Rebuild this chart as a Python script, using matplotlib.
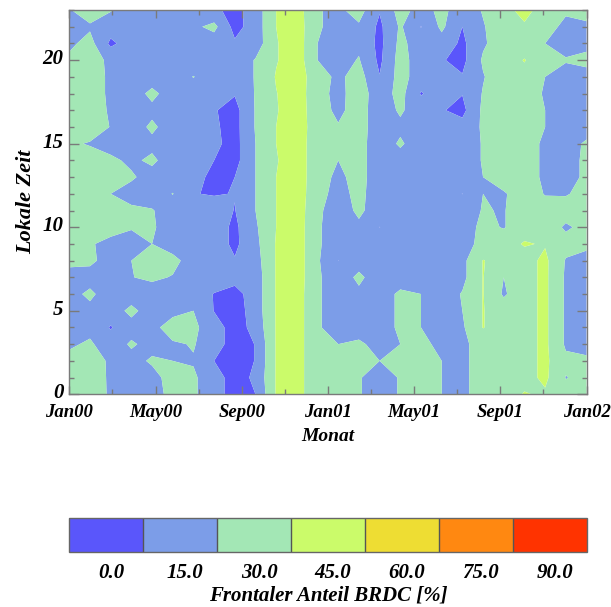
import numpy as np
import matplotlib
matplotlib.use("Agg")
import matplotlib.pyplot as plt
from matplotlib import font_manager as fm
from matplotlib.transforms import ScaledTranslation
from matplotlib.ticker import FixedLocator, MultipleLocator

# Time axis: 26 sampling columns spread over Jan 2000 .. Jan 2002 (in months)
n_cols = 26
months = np.linspace(0.0, 24.0, n_cols)
# Local time (hours)
hours = np.arange(24)

month_ticks = [0, 4, 8, 12, 16, 20, 24]
month_labels = ["Jan00", "May00", "Sep00", "Jan01", "May01", "Sep01", "Jan02"]
hour_ticks = [0, 5, 10, 15, 20]

# Frontal share of BRDC [%]; one row per local hour, listed from 23 h down to 0 h
share_rows_desc = [
    [29, 38, 31, 22, 22, 22, 22, 18, 10, 22, 45, 52, 31, 27, 36, 16, 36, 24, 34, 22, 31, 40, 50, 38, 33, 32],  # 23
    [26, 28, 22, 22, 22, 22, 27, 34, 10, 22, 45, 53, 31, 27, 28, 12, 32, 14.5, 33, 15, 29, 38, 43, 38, 25, 29],  # 22
    [27, 35, 12, 22, 22, 22, 22, 22, 17, 22, 44, 53, 30, 24, 27, 11, 34, 22, 24, 12, 28, 38, 40, 30, 25, 27],  # 21
    [33, 38, 26, 22, 22, 22, 22, 22, 20, 31, 44, 53, 30, 24, 31, 12, 36, 22, 16, 11, 32, 40, 45.5, 38, 31, 33],  # 20
    [36, 38, 27, 22, 22, 22, 30.5, 22, 20, 31, 46, 53, 36, 27, 36, 15.5, 36, 22, 22, 16, 29, 40, 42, 30, 25, 26],  # 19
    [36, 38, 27, 22, 34, 22, 22, 22, 16, 31, 44.5, 53, 35, 26, 37, 22, 35, 14, 22, 15.5, 31, 40, 40, 28, 24, 24],  # 18
    [36, 38, 28, 22, 26, 22, 22, 16, 10, 31, 44, 53, 36, 27, 36, 22, 32, 22, 16, 11, 33, 40, 40, 30, 24, 24],  # 17
    [35, 37, 29.5, 22, 33, 22, 22, 17, 10, 31, 45, 53, 37, 31, 36, 22, 27, 22, 24, 20, 32, 40, 40, 30, 24, 24],  # 16
    [32, 29, 24, 22, 26, 22, 22, 18, 10, 30, 45, 53, 36, 33, 35, 22, 32, 22, 22, 22, 31, 40, 40, 26, 24, 32],  # 15
    [37, 36, 33, 27, 33, 22, 22, 15, 10, 30, 44, 53, 36, 30, 35, 22, 24, 22, 22, 22, 31, 40, 40, 26, 24, 33],  # 14
    [38, 37, 36, 32, 24, 22, 19, 12, 15, 30, 45, 53, 36, 27, 35, 22, 22, 22, 22, 22, 30, 40, 40, 26, 24, 33],  # 13
    [37, 36, 30, 24, 22, 30.5, 15.5, 14, 15.5, 30, 45, 53, 35, 25, 34, 22, 22, 22, 22, 14.8, 30, 28, 40, 29, 29, 34],  # 12
    [38, 37, 35, 33, 31, 22, 22, 22, 14.5, 30, 45, 53, 33, 22, 33, 22, 22, 22, 22, 22, 31, 29, 40, 38, 36, 34],  # 11
    [38, 37, 34, 31, 32, 22, 22, 22, 12, 28, 45, 53, 32, 22, 27, 14.8, 22, 22, 22, 22, 34, 29, 40, 38, 28, 34],  # 10
    [37, 31, 27, 25, 30, 22, 22, 22, 12, 26, 46, 53, 32, 22, 24, 22, 22, 22, 22, 22, 36, 40, 46, 44, 35, 34],  # 9
    [32, 33, 24, 30, 36, 35, 22, 15.5, 16, 24, 46, 53, 32, 14.8, 24, 22, 22, 22, 22, 26, 45.5, 40, 40, 48, 29, 24],  # 8
    [27, 24, 22, 29.5, 33, 29, 22, 22, 20, 22, 46, 53, 32, 22, 33, 22, 22, 22, 22, 26, 45.5, 30, 40, 48, 28, 24],  # 7
    [25, 33, 22, 22, 22, 22, 22, 14.5, 10, 22, 46, 52, 32, 22, 27, 22, 33, 30, 22, 31, 45.5, 28, 40, 48, 28, 24],  # 6
    [25, 26, 22, 34, 22, 25, 30, 14.5, 8, 22, 46, 52, 32, 22, 22, 22, 33, 30, 22, 30, 45.5, 38, 40, 48, 28, 24],  # 5
    [25, 26, 14, 24, 25, 38, 33, 22, 8, 20, 46, 52, 32, 22, 22, 22, 33, 30, 22, 28, 45.5, 38, 40, 48, 28, 24],  # 4
    [28, 32, 22, 32, 25, 28, 31, 22, 8, 15.5, 46, 52, 32, 30, 33, 24, 30, 33, 27, 27, 36, 38, 40, 48, 28, 24],  # 3
    [34, 36, 28, 25, 32, 30, 29, 15, 8, 15.5, 46, 52, 32, 33, 33, 30, 33, 34, 30, 27, 36, 38, 40, 48, 33, 33],  # 2
    [36, 37, 28, 22, 25, 36, 32, 22, 8, 18, 46, 52, 32, 33, 31, 24, 31, 34, 30, 27, 36, 38, 40, 48, 29.5, 34],  # 1
    [37, 38, 28, 22, 22, 36, 32, 22, 8, 15, 46, 52, 32, 33, 31, 24, 31, 34, 30, 27, 36, 38, 46, 43, 34, 35],  # 0
]

levels = [0, 15, 30, 45, 60, 75, 90, 105]
level_labels = ["0.0", "15.0", "30.0", "45.0", "60.0", "75.0", "90.0"]
fill_colors = ["#5a56fb", "#7c9de8", "#a3e7b5", "#cbfb6a", "#eedd33", "#ff8811", "#ff3300"]

share = np.flipud(np.array(share_rows_desc, dtype=float))


def bold_italic_serif():
    """Locate a bold-italic serif face file; fall back to a generic request."""
    for family in ["Liberation Serif", "DejaVu Serif", "Noto Serif"]:
        for entry in fm.fontManager.ttflist:
            w = entry.weight
            heavy = (w in ("bold", "heavy", "black", "demibold", "semibold")) or (
                isinstance(w, int) and w >= 600)
            if entry.name == family and entry.style in ("italic", "oblique") and heavy:
                return entry.fname
    return None


bi_file = bold_italic_serif()


def font(size):
    if bi_file:
        return fm.FontProperties(fname=bi_file, size=size)
    return fm.FontProperties(family="serif", weight="bold", style="italic", size=size)


W, H = 611, 607
fig = plt.figure(figsize=(W / 100, H / 100), dpi=100)


def box(x0, y0, x1, y1):
    return [x0 / W, 1 - y1 / H, (x1 - x0) / W, (y1 - y0) / H]


ax = fig.add_axes(box(69.3, 10.0, 586.5, 394.3))
cs = ax.contourf(months, hours, share, levels=levels, colors=fill_colors, antialiased=True)
ax.set_xlim(0, 24)
ax.set_ylim(0, 23)

frame_color = "#7a7a7a"
for sp in ax.spines.values():
    sp.set_color(frame_color)
    sp.set_linewidth(1.0)

ax.xaxis.set_major_locator(FixedLocator(month_ticks))
ax.xaxis.set_minor_locator(MultipleLocator(2))
ax.yaxis.set_major_locator(FixedLocator(hour_ticks))
ax.yaxis.set_minor_locator(MultipleLocator(1))
ax.set_xticklabels(month_labels, fontproperties=font(13.5))
ax.set_yticklabels([str(h) for h in hour_ticks], fontproperties=font(15))
ax.tick_params(axis="both", which="both", direction="in", color=frame_color,
               top=True, right=True, width=1.0)
ax.tick_params(axis="y", which="major", length=7.2, pad=4)
ax.tick_params(axis="y", which="minor", length=3.6)
ax.tick_params(axis="x", which="major", length=5.5, pad=7)
ax.tick_params(axis="x", which="minor", length=3.6)
ax.set_xlabel("Monat", fontproperties=font(14), labelpad=5)
ax.set_ylabel("Lokale Zeit", fontproperties=font(16), labelpad=5)

# hour labels sit a few pixels above their ticks
lift = ScaledTranslation(0, 3.5 / 100, fig.dpi_scale_trans)
for lab in ax.get_yticklabels():
    lab.set_transform(lab.get_transform() + lift)

cax = fig.add_axes(box(69.3, 518.3, 587.0, 551.7))
cb = fig.colorbar(cs, cax=cax, orientation="horizontal", drawedges=True)
cb.outline.set_edgecolor("#666666")
cb.outline.set_linewidth(1.0)
cb.dividers.set_color("#555555")
cb.dividers.set_linewidth(1.0)
cb.set_ticks([l + 8.5 for l in levels[:-1]])
cb.set_ticklabels(level_labels)
for lab in cax.get_xticklabels():
    lab.set_fontproperties(font(15))
cax.tick_params(length=0, pad=8)
cb.set_label("Frontaler Anteil BRDC [%]", fontproperties=font(15), labelpad=2)

fig.savefig("out.png", dpi=100)
